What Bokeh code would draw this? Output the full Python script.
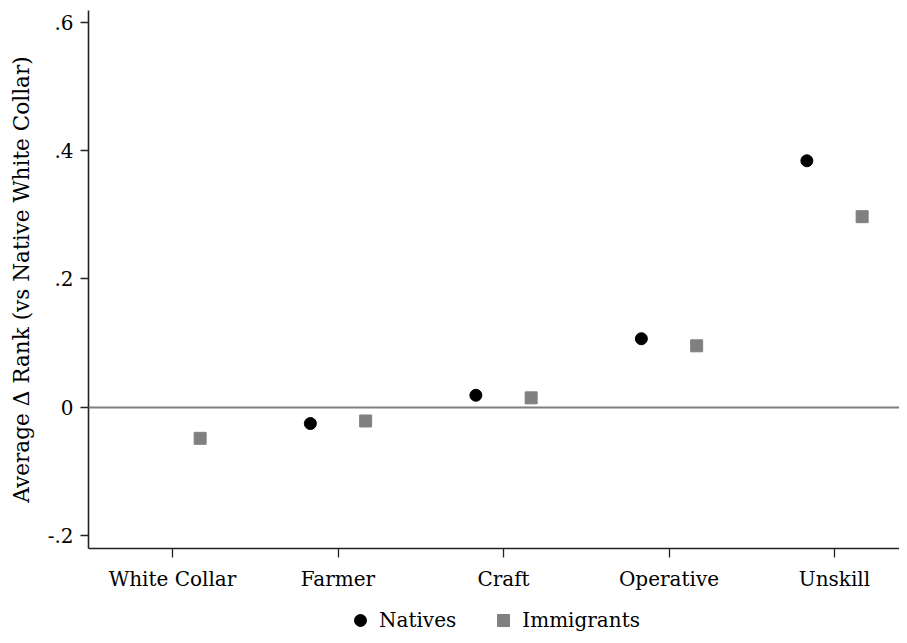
from bokeh.plotting import figure
from bokeh.layouts import column
from bokeh.models import (Range1d, FixedTicker, Span, Legend, LegendItem,
                          ColumnDataSource)
from bokeh.embed import file_html
from bokeh.resources import INLINE

# ---- data ----
occupations = ["White Collar", "Farmer", "Craft", "Operative", "Unskill"]
natives = [float("nan"), -0.025, 0.019, 0.107, 0.384]
immigrants = [-0.048, -0.021, 0.015, 0.096, 0.297]
y_ticks = [-0.2, 0.0, 0.2, 0.4, 0.6]
y_tick_labels = ["-.2", "0", ".2", ".4", ".6"]
series_names = ["Natives", "Immigrants"]

DODGE = 0.167
FONT = "DejaVu Serif"
NAT_STYLE = dict(marker="circle", size=12, fill_color="black", line_color="black")
IMM_STYLE = dict(marker="square", size=12, fill_color="#808080", line_color="#808080")

idx = list(range(len(occupations)))
src_n = ColumnDataSource(dict(x=[i - DODGE for i in idx], y=natives))
src_i = ColumnDataSource(dict(x=[i + DODGE for i in idx], y=immigrants))

p = figure(width=899, height=600, output_backend="svg", toolbar_location=None,
           x_range=Range1d(-0.5076, 4.3927), y_range=Range1d(-0.2195, 0.6179),
           min_border_left=88, min_border_right=0, min_border_top=10,
           min_border_bottom=52)
p.outline_line_color = None
p.grid.visible = False

zero = Span(location=0, dimension="width", line_color="#7f7f7f", line_width=2)
p.add_layout(zero)

p.scatter("x", "y", source=src_n, **NAT_STYLE)
p.scatter("x", "y", source=src_i, **IMM_STYLE)

# axes
for ax in (p.xaxis[0], p.yaxis[0]):
    ax.axis_line_color = "#222222"
    ax.axis_line_width = 1.6
    ax.major_tick_line_color = "#222222"
    ax.major_tick_line_width = 1.3
    ax.minor_tick_line_color = None
    ax.major_tick_in = 0
    ax.major_label_text_font = FONT
    ax.major_label_text_font_size = "20px"
    ax.major_label_text_color = "black"

p.xaxis.ticker = FixedTicker(ticks=idx)
p.xaxis.major_label_overrides = {i: n for i, n in zip(idx, occupations)}
p.xaxis.major_tick_out = 9
p.xaxis.major_label_standoff = 9

p.yaxis.ticker = FixedTicker(ticks=y_ticks)
p.yaxis.major_label_overrides = {t: l for t, l in zip(y_ticks, y_tick_labels)}
p.yaxis.major_label_orientation = "horizontal"
p.yaxis.major_tick_out = 8
p.yaxis.major_label_standoff = 7
p.yaxis.axis_label = "Average \u0394 Rank (vs Native White Collar)"
p.yaxis.axis_label_text_font = FONT
p.yaxis.axis_label_text_font_size = "21.6px"
p.yaxis.axis_label_text_font_style = "normal"
p.yaxis.axis_label_text_color = "black"
p.yaxis.axis_label_standoff = 11

# legend strip below the plot (same series; its view window shows no points)
lg = figure(width=899, height=35, output_backend="svg", toolbar_location=None,
            x_axis_type=None, y_axis_type=None, min_border=0,
            x_range=p.x_range, y_range=Range1d(1, 2))
lg.outline_line_color = None
lg.grid.visible = False
kn = lg.scatter("x", "y", source=src_n, **NAT_STYLE)
ki = lg.scatter("x", "y", source=src_i, **IMM_STYLE)
legend = Legend(items=[LegendItem(label=series_names[0], renderers=[kn]),
                       LegendItem(label=series_names[1], renderers=[ki])],
                orientation="horizontal", location=(257, 0),
                glyph_width=30, glyph_height=30, label_standoff=4, spacing=32,
                padding=0, margin=0, border_line_color=None,
                background_fill_alpha=0,
                label_text_font=FONT, label_text_font_size="20px",
                label_text_color="black")
lg.add_layout(legend)

layout = column(p, lg, spacing=0)
open("out.html", "w").write(file_html(layout, INLINE))
